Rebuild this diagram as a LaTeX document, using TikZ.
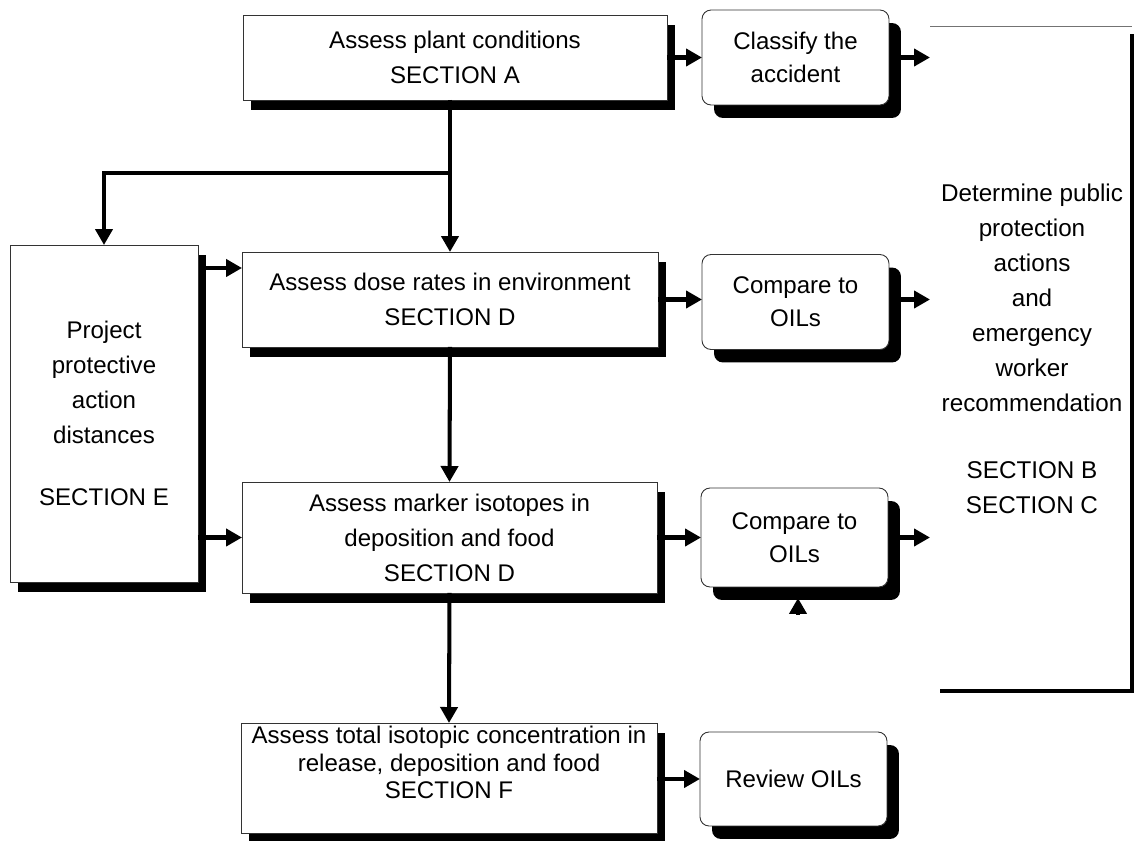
\documentclass[tikz,border=0pt]{standalone}
\usepackage{fontspec}
\setmainfont{Liberation Sans}
\usetikzlibrary{arrows.meta,shadows}
\begin{document}
\begin{tikzpicture}[
  x=0.02cm, y=-0.02cm,
  every node/.style={align=center,inner sep=0pt,outer sep=0pt,font=\fontsize{13.7}{20}\selectfont},
  sqbox/.style={rectangle,draw=black!80,line width=0.5pt,fill=white,
    drop shadow={shadow xshift=0.16cm,shadow yshift=-0.2cm,fill=black,opacity=1}},
  rndbox/.style={rectangle,rounded corners=0.18cm,draw=black!80,line width=0.5pt,fill=white,
    minimum width=3.74cm,
    drop shadow={shadow xshift=0.24cm,shadow yshift=-0.26cm,fill=black,opacity=1}},
  arr/.style={line width=2.3pt,-{Triangle[length=0.32cm,width=0.34cm]}}
]
  \useasboundingbox (0,0) rectangle (1134,841);
  % main column
  \node[sqbox,minimum width=8.48cm,minimum height=1.7cm] (plant) at (455,57.5)
    {Assess plant conditions\\SECTION A};
  \node[sqbox,minimum width=8.32cm,minimum height=1.9cm] (dose) at (450,299.5)
    {Assess dose rates in environment\\SECTION D};
  \node[sqbox,minimum width=8.3cm,minimum height=2.22cm,font=\fontsize{13.7}{19.9}\selectfont] (marker) at (449.5,537.5)
    {Assess marker isotopes in\\deposition and food\\SECTION D};
  \node[sqbox,minimum width=8.32cm,minimum height=2.2cm,text depth=0.62cm,font=\fontsize{13.7}{15.6}\selectfont] (total) at (449,778)
    {Assess total isotopic concentration in\\release, deposition and food\\SECTION F};
  \node[sqbox,minimum width=3.76cm,minimum height=6.74cm,font=\fontsize{13.7}{19.9}\selectfont] (proj) at (104,413.5)
    {Project\\protective\\action\\distances\\[0.54cm]SECTION E};
  % right column
  \node[rndbox,minimum height=1.9cm,font=\fontsize{13.7}{18.8}\selectfont] (classify) at (795.5,57.5) {Classify the\\accident};
  \node[rndbox,minimum height=1.9cm,font=\fontsize{13.7}{18.8}\selectfont] (cmpa) at (795.5,302) {Compare to\\OILs};
  \node[rndbox,minimum height=1.98cm,font=\fontsize{13.7}{18.8}\selectfont] (cmpb) at (794.5,537.5) {Compare to\\OILs};
  \node[rndbox,minimum height=1.88cm] (review) at (793.5,779) {Review OILs};
  % decision area
  \node[minimum width=4.04cm,minimum height=13.3cm] (dec) at (1031,358.5) {};
  \node[font=\fontsize{13.8}{19.9}\selectfont] (dectxt) at (1032,349)
    {Determine public\\protection\\actions\\and\\emergency\\worker\\recommendation\\[0.64cm]SECTION B\\SECTION C};
  \draw[line width=0.6pt,black!55] (dec.north west) -- (dec.north east);
  \draw[line width=2.6pt] ([yshift=-0.16cm]dec.north east) -- (dec.south east) -- ([xshift=0.2cm]dec.south west);
  % connectors
  \coordinate (jn) at (450,173);
  \draw[line width=2.3pt] (plant.south -| dose.north) -- (jn);
  \draw[arr] (jn) -- (dose.north);
  \draw[arr] (jn) -| (proj.north);
  \draw[arr] (dose.south) -- (marker.north);
  \draw[arr] (marker.south) -- (total.north);
  \coordinate (pd) at (205,268);
  \draw[arr] (pd) -- (pd -| dose.west);
  \draw[arr] (proj.east |- marker) -- (marker.west);
  \draw[arr] (plant.east |- classify) -- (classify.west);
  \draw[arr] (dose.east) -- (dose.east -| cmpa.west);
  \draw[arr] (marker) -- (cmpb.west);
  \draw[arr] (total.east |- review) -- (review.west);
  \draw[arr] ([xshift=0.2cm]classify.east) -- (classify -| dec.west);
  \draw[arr] ([xshift=0.2cm]cmpa.east |- dose) -- (dose -| dec.west);
  \draw[arr] ([xshift=0.2cm]cmpb.east) -- (cmpb -| dec.west);
  \coordinate (tipb) at (798,615);
  \draw[arr] (tipb) -- ++(0,-17);
\end{tikzpicture}
\end{document}
